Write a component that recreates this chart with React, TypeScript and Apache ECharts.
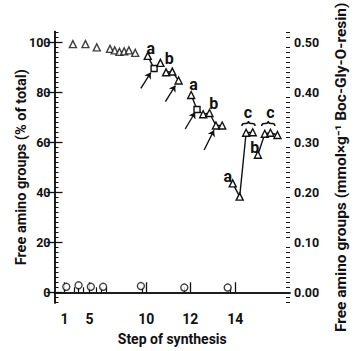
import React, { useEffect, useRef } from "react";
import * as echarts from "echarts";

// x values are positions along the step axis (axis units), y values in % of total
const X_MAX = 249.5;
const Y_MIN = -4.3;
const Y_MAX = 104.4;

const stepLabels = ["1", "5", "10", "12", "14"];
const stepPositions = [10.5, 37.2, 97.2, 143.8, 191.5];
const minorStepPositions = [20.5, 25.5, 30.5, 44.5, 49.5, 54.5, 92.5, 137.5, 186.5];

const leftTicks = [0, 20, 40, 60, 80, 100];
const rightTicks = [0, 0.1, 0.2, 0.3, 0.4, 0.5];

const circleX = [12.5, 25.5, 38.5, 51.5, 91.5, 137.5, 183.5];
const circleY = [2.2, 2.8, 2.2, 2.2, 2.5, 1.9, 1.9];

const triX = [19.5, 32.8, 44.8, 58.8, 63.8, 68.8, 73.8, 78.8, 85.5];
const triY = [99.4, 99.4, 98.1, 97.5, 96.9, 96.3, 96.5, 96.9, 95.9];

const a1X = [98.8, 105.5, 112.2];
const a1Y = [94.7, 89.6, 91.9];
const b1X = [118.2, 124.8, 131.5];
const b1Y = [88.1, 88.4, 84.8];
const ab2X = [144.8, 151, 157.5, 164.2, 171, 177.7];
const ab2Y = [79, 73.2, 71.3, 71.8, 66.8, 66.8];
const c1X = [188.8, 196.2, 203, 210];
const c1Y = [43.6, 38.3, 63.9, 64.1];
const c2X = [215.5, 222.8, 228.8, 236.2];
const c2Y = [55.1, 63.5, 63.9, 63.0];

const arrows = [
  [[91.5, 81.7], [102, 88.0]],
  [[117.5, 76.4], [128, 82.8]],
  [[138.5, 65.4], [149, 72.1]],
  [[158.5, 57.0], [169, 64.9]],
];

const letterText = ["a", "b", "a", "b", "a", "b", "c", "c"];
const letterX = [102, 121.5, 147.2, 168.8, 183.5, 212.2, 204.8, 228.8];
const letterY = [97.8, 93.5, 83.2, 75.7, 46.5, 58.1, 72.0, 72.0];

const braceX0 = [198.5, 219.5];
const braceX1 = [212.5, 233.5];
const braceY = [67.6, 67.6];

const FONT = "Roboto, 'Liberation Sans', sans-serif";
const INK = "#111";

const zip = (xs: number[], ys: number[]) => xs.map((x, i) => [x, ys[i]]);

export default function App() {
  const ref = useRef<HTMLDivElement>(null);
  useEffect(() => {
    if (!ref.current) return;
    const chart = echarts.init(ref.current, null, { renderer: "svg" });
    const symStyle = { color: "#fff", borderColor: INK, borderWidth: 1.4 };
    const lineSeries = (xs: number[], ys: number[], rectIdx: number[] = []) => ({
      type: "line",
      data: xs.map((x, i) =>
        rectIdx.includes(i)
          ? { value: [x, ys[i]], symbol: "rect", symbolSize: 6 }
          : [x, ys[i]]
      ),
      symbol: "triangle",
      symbolSize: 7,
      lineStyle: { color: INK, width: 1.4 },
      itemStyle: symStyle,
      z: 3,
    });
    const yRightMin = Y_MIN / 200;
    const yRightMax = Y_MAX / 200;
    const minorLeft: number[] = [];
    for (let v = -4; v <= 104; v += 2) if (v % 20 !== 0) minorLeft.push(v);
    const minorRight = minorLeft.map((v) => v / 200);

    chart.setOption({
      animation: false,
      backgroundColor: "#fff",
      grid: { left: 54.5, right: 53, top: 13.3, bottom: 47, containLabel: false },
      xAxis: [
        {
          type: "value",
          min: 0,
          max: X_MAX,
          position: "bottom",
          name: "Step of synthesis",
          nameLocation: "middle",
          nameGap: 29,
          nameTextStyle: { fontFamily: FONT, fontSize: 14, fontWeight: "bold", color: INK },
          axisLine: { show: true, lineStyle: { color: INK, width: 1.5 } },
          axisTick: { show: true, inside: true, length: 10, customValues: stepPositions, lineStyle: { color: INK, width: 1.3 } },
          axisLabel: {
            show: true,
            customValues: stepPositions,
            margin: 9,
            fontFamily: FONT,
            fontSize: 14,
            fontWeight: "bold",
            color: INK,
            formatter: (v: number) => {
              const i = stepPositions.findIndex((p) => Math.abs(p - v) < 1e-6);
              return i >= 0 ? stepLabels[i] : "";
            },
          },
          splitLine: { show: false },
        },
        {
          type: "value",
          min: 0,
          max: X_MAX,
          position: "bottom",
          axisLine: { show: false },
          axisTick: { show: true, inside: true, length: 5, customValues: minorStepPositions, lineStyle: { color: INK, width: 1.2 } },
          axisLabel: { show: false },
          splitLine: { show: false },
        },
        {
          type: "value",
          min: 0,
          max: X_MAX,
          position: "top",
          axisLine: { show: true, lineStyle: { color: INK, width: 1.5 } },
          axisTick: { show: false },
          axisLabel: { show: false },
          splitLine: { show: false },
        },
      ],
      yAxis: [
        {
          type: "value",
          min: Y_MIN,
          max: Y_MAX,
          position: "left",
          name: "Free amino groups (% of total)",
          nameLocation: "middle",
          nameRotate: 90,
          nameGap: 26,
          nameMoveOverlap: false,
          nameTextStyle: { fontFamily: FONT, fontSize: 14.5, fontWeight: "bold", color: INK },
          axisLine: { show: true, lineStyle: { color: INK, width: 1.5 } },
          axisTick: { show: true, inside: true, length: 8, customValues: leftTicks, lineStyle: { color: INK, width: 1.3 } },
          axisLabel: { show: true, customValues: leftTicks, margin: 4, fontFamily: FONT, fontSize: 12.5, fontWeight: "bold", color: INK },
          splitLine: { show: false },
        },
        {
          type: "value",
          min: Y_MIN,
          max: Y_MAX,
          position: "left",
          axisLine: { show: false },
          axisTick: { show: true, inside: true, length: 4, customValues: minorLeft, lineStyle: { color: INK, width: 1 } },
          axisLabel: { show: false },
          splitLine: { show: false },
        },
        {
          type: "value",
          min: yRightMin,
          max: yRightMax,
          position: "right",
          name: "Free amino groups (mmol×g⁻¹ Boc-Gly-O-resin)",
          nameLocation: "middle",
          nameRotate: 90,
          nameGap: 43,
          nameTextStyle: { fontFamily: FONT, fontSize: 15.5, fontWeight: "bold", color: INK },
          axisLine: { show: true, lineStyle: { color: INK, width: 1.5 } },
          axisTick: { show: true, inside: true, length: 8, customValues: rightTicks, lineStyle: { color: INK, width: 1.3 } },
          axisLabel: {
            show: true,
            customValues: rightTicks,
            margin: 4,
            fontFamily: FONT,
            fontSize: 12.5,
            fontWeight: "bold",
            color: INK,
            formatter: (v: number) => v.toFixed(2),
          },
          splitLine: { show: false },
        },
        {
          type: "value",
          min: yRightMin,
          max: yRightMax,
          position: "right",
          axisLine: { show: false },
          axisTick: { show: true, inside: true, length: 4, customValues: minorRight, lineStyle: { color: INK, width: 1 } },
          axisLabel: { show: false },
          splitLine: { show: false },
        },
      ],
      series: [
        {
          type: "scatter",
          data: zip(circleX, circleY),
          symbol: "circle",
          symbolSize: 7,
          itemStyle: symStyle,
          markLine: {
            silent: true,
            symbol: ["none", "arrow"],
            symbolSize: 6,
            label: { show: false },
            lineStyle: { color: INK, width: 1.4, type: "solid" },
            data: arrows.map(([p0, p1]) => [{ coord: p0 }, { coord: p1 }]),
          },
        },
        {
          type: "scatter",
          data: zip(triX, triY),
          symbol: "triangle",
          symbolSize: 7,
          itemStyle: symStyle,
        },
        lineSeries(a1X, a1Y, [1]),
        lineSeries(b1X, b1Y),
        lineSeries(ab2X, ab2Y, [1]),
        lineSeries(c1X, c1Y),
        lineSeries(c2X, c2Y),
        {
          type: "custom",
          coordinateSystem: "cartesian2d",
          data: letterX.map((x, i) => [x, letterY[i], letterText[i]]),
          encode: { x: 0, y: 1 },
          renderItem: (params: any, api: any) => {
            const p = api.coord([api.value(0), api.value(1)]);
            const t = letterText[params.dataIndex];
            return {
              type: "text",
              x: p[0],
              y: p[1],
              style: {
                text: t,
                fill: INK,
                font: `bold 16px ${FONT}`,
                align: "center",
                verticalAlign: "middle",
              },
            };
          },
          z: 5,
        },
        {
          type: "custom",
          coordinateSystem: "cartesian2d",
          data: braceX0.map((x, i) => [x, braceX1[i], braceY[i]]),
          encode: { x: [0, 1], y: 2 },
          renderItem: (params: any, api: any) => {
            const p0 = api.coord([api.value(0), api.value(2)]);
            const p1 = api.coord([api.value(1), api.value(2)]);
            const y = p0[1];
            const x0 = p0[0];
            const x1 = p1[0];
            const xm = (x0 + x1) / 2;
            const r = 2.5;
            const d = `M${x0},${y + r} Q${x0},${y} ${x0 + r},${y} L${xm - r},${y} Q${xm},${y} ${xm},${y - r} Q${xm},${y} ${xm + r},${y} L${x1 - r},${y} Q${x1},${y} ${x1},${y + r}`;
            return {
              type: "path",
              shape: { pathData: d },
              style: { fill: "none", stroke: INK, lineWidth: 1.4 },
            };
          },
        },
      ],
    });
    return () => chart.dispose();
  }, []);
  return (
    <div
      ref={ref}
      style={{ position: "fixed", left: 0, top: 0, width: 357, height: 351, background: "#fff" }}
    />
  );
}
